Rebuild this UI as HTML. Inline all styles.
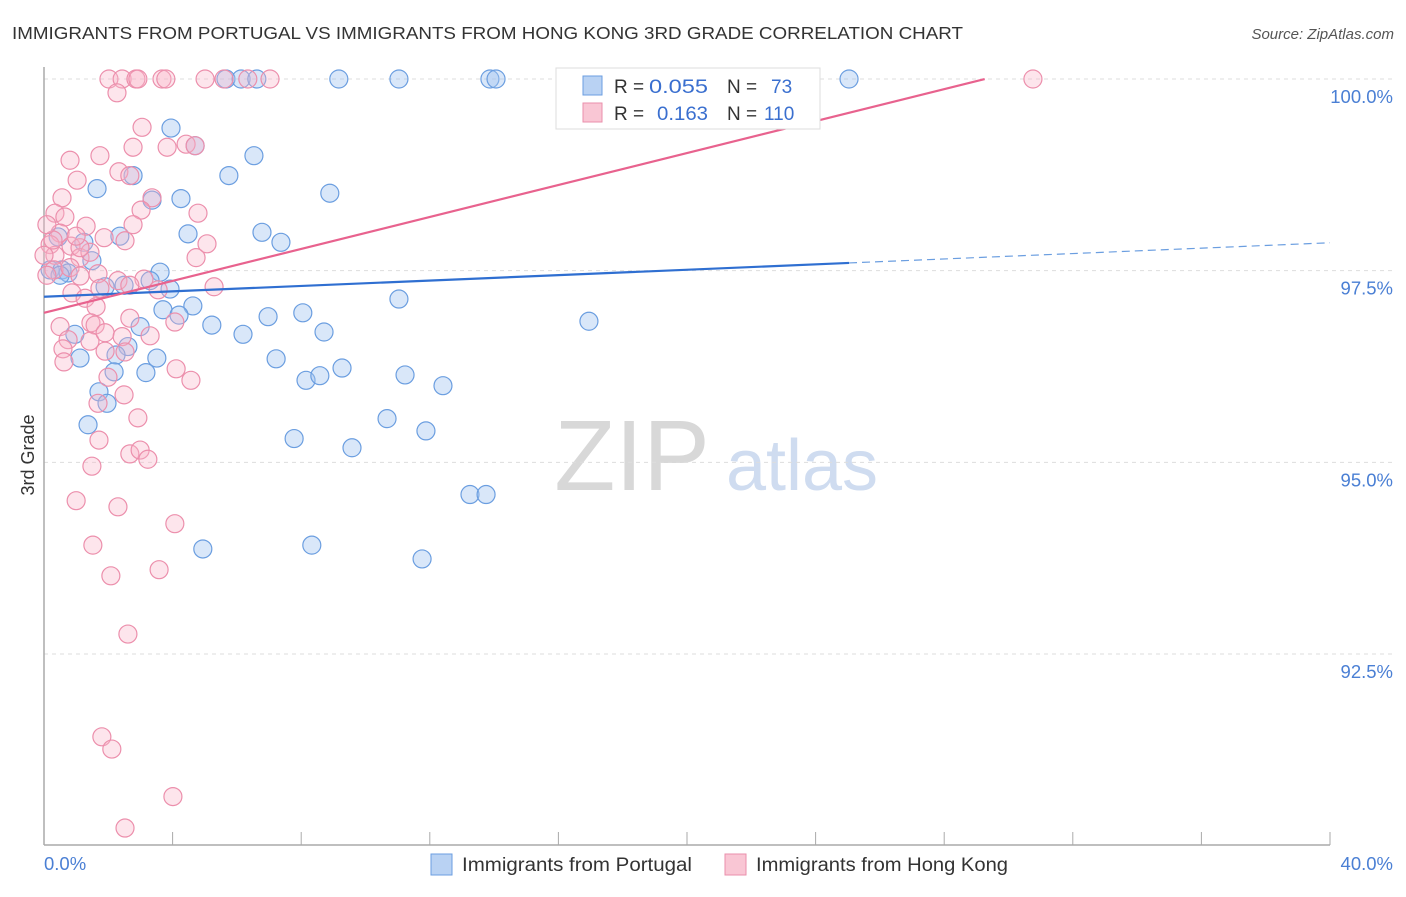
<!DOCTYPE html>
<html><head><meta charset="utf-8"><style>
body{margin:0;background:#fff;font-family:"Liberation Sans",sans-serif}
svg text{font-family:"Liberation Sans",sans-serif}
</style></head><body>
<svg id="chart" width="1406" height="892" xmlns="http://www.w3.org/2000/svg">
<text x="12" y="39" font-size="17.5" fill="#333" textLength="951" lengthAdjust="spacingAndGlyphs">IMMIGRANTS FROM PORTUGAL VS IMMIGRANTS FROM HONG KONG 3RD GRADE CORRELATION CHART</text>
<text x="1394" y="39" font-size="15" fill="#555" text-anchor="end" font-style="italic">Source: ZipAtlas.com</text>
<g>
<text x="632" y="490" font-size="100" fill="#d8d8d8" text-anchor="middle" font-family="Liberation Serif">ZIP</text>
<text x="802" y="490" font-size="72" fill="#cfdcf0" text-anchor="middle">atlas</text>
</g>
<g id="grid"></g><g id="axes"></g><g id="pts"></g><g id="lines"></g>
<text transform="translate(34,455) rotate(-90)" font-size="18" fill="#333" text-anchor="middle">3rd Grade</text>
<g>
<rect x="556" y="68" width="264" height="61" fill="#fff" stroke="#ddd"/>
<rect x="583" y="76" width="19" height="19" fill="#b9d2f3" stroke="#6b9ee0"/>
<rect x="583" y="103" width="19" height="19" fill="#f9c6d4" stroke="#ea8fab"/>
<text x="614" y="93" font-size="19" fill="#333">R =</text>
<text x="649" y="93" font-size="19" fill="#3a6fcf" textLength="59" lengthAdjust="spacingAndGlyphs">0.055</text>
<text x="727" y="93" font-size="19" fill="#333">N =</text>
<text x="771" y="93" font-size="19" fill="#3a6fcf">73</text>
<text x="614" y="120" font-size="19" fill="#333">R =</text>
<text x="657" y="120" font-size="19" fill="#3a6fcf" textLength="51" lengthAdjust="spacingAndGlyphs">0.163</text>
<text x="727" y="120" font-size="19" fill="#333">N =</text>
<text x="764" y="120" font-size="19" fill="#3a6fcf">110</text>
</g>
<g>
<rect x="431" y="854" width="21" height="21" fill="#b9d2f3" stroke="#6b9ee0"/>
<text x="462" y="871" font-size="19" fill="#333" textLength="230" lengthAdjust="spacingAndGlyphs">Immigrants from Portugal</text>
<rect x="725" y="854" width="21" height="21" fill="#f9c6d4" stroke="#ea8fab"/>
<text x="756" y="871" font-size="19" fill="#333" textLength="252" lengthAdjust="spacingAndGlyphs">Immigrants from Hong Kong</text>
</g>
</svg>
<script>
const yTicks=[92.5,95,97.5,100];
const yTickLabels=["92.5%","95.0%","97.5%","100.0%"];
const xTicks=[0,4,8,12,16,20,24,28,32,36,40];
const xEndLabels=["0.0%","40.0%"];
const blueX=[5.66,6.13,6.62,9.17,11.04,13.87,14.06,25.04,16.67,3.95,4.70,6.53,5.75,2.77,1.65,4.26,3.36,8.89,6.78,4.48,2.36,7.37,0.44,1.24,1.49,3.61,0.19,0.56,0.75,0.50,1.90,2.49,3.92,3.30,4.63,3.70,4.20,5.22,6.19,6.97,8.05,8.71,2.99,11.04,16.95,0.96,2.61,2.24,1.12,3.51,7.22,9.27,8.15,8.58,11.23,12.41,2.18,3.17,1.71,1.96,1.37,10.67,11.88,7.78,9.58,13.25,13.75,4.94,8.33,11.76];
const blueY=[100,100,100,100,100,100,100,100,100,99.36,99.13,99.00,98.74,98.74,98.57,98.44,98.42,98.51,98.00,97.98,97.95,97.87,97.94,97.87,97.63,97.48,97.51,97.51,97.47,97.44,97.29,97.31,97.26,97.37,97.04,96.99,96.92,96.79,96.67,96.90,96.95,96.70,96.77,97.13,96.84,96.67,96.51,96.40,96.36,96.36,96.35,96.23,96.07,96.13,96.14,96.00,96.18,96.17,95.92,95.77,95.49,95.57,95.41,95.31,95.19,94.58,94.58,93.87,93.92,93.74];
const pinkX=[2.02,2.43,2.86,2.92,3.67,3.79,5.01,5.60,6.34,7.03,30.76,2.27,3.05,2.77,1.74,0.81,1.03,4.42,3.83,4.70,2.33,2.67,4.79,3.36,3.02,0.56,0.34,0.65,0.50,1.31,1.87,2.52,2.77,5.07,0.19,0.34,0.84,1.12,1.43,4.73,0.31,0.81,1.12,1.68,2.30,3.11,3.55,5.29,0.87,1.28,1.62,1.46,1.59,0.50,0.75,1.43,1.90,2.43,2.67,3.30,4.07,0.59,1.90,2.52,0.62,1.99,4.11,4.57,1.68,2.49,2.92,1.71,2.67,2.99,3.23,1.49,1.00,2.30,4.07,1.52,3.58,2.08,2.61,1.80,2.11,4.01,2.52,0,0.09,0.28,0.09,1.12,1.00,2.67,1.74];
const pinkY=[100,100,100,100,100,100,100,100,100,100,100,99.82,99.37,99.11,99.00,98.94,98.68,99.15,99.11,99.13,98.79,98.74,98.25,98.45,98.29,98.45,98.25,98.20,97.99,98.08,97.93,97.89,98.10,97.85,97.84,97.70,97.82,97.67,97.74,97.67,97.51,97.54,97.43,97.46,97.37,97.39,97.25,97.29,97.21,97.14,97.03,96.82,96.79,96.77,96.60,96.58,96.69,96.64,96.88,96.65,96.83,96.48,96.45,96.44,96.31,96.11,96.22,96.07,95.77,95.88,95.58,95.29,95.11,95.16,95.04,94.95,94.50,94.42,94.20,93.92,93.60,93.52,92.76,91.42,91.26,90.64,90.23,97.70,97.44,97.90,98.10,97.80,97.95,97.31,97.27];
const blueTrend=[97.16,0.0176];   // intercept, slope
const pinkTrend=[96.95,0.1042];
const blueSolidEnd=25.04, pinkEnd=29.26;

const X0=44,X1=1330,Y100=79,Y925=654;
const sx=v=>X0+(v/40)*(X1-X0);
const sy=v=>Y100+(100-v)/7.5*(Y925-Y100);
const NS='http://www.w3.org/2000/svg';
function mk(tag,attrs,parent){const e=document.createElementNS(NS,tag);for(const k in attrs)e.setAttribute(k,attrs[k]);parent.appendChild(e);return e;}
const grid=document.getElementById('grid'),axes=document.getElementById('axes'),pts=document.getElementById('pts'),lines=document.getElementById('lines');
yTicks.forEach((t,i)=>{
 const l=mk('line',{x1:X0,x2:1394,y1:sy(t),y2:sy(t),stroke:'#ddd','stroke-dasharray':'4,4'},grid);
 
 
 const tx=mk('text',{x:1393,y:sy(t)+24,'font-size':'18.5','fill':'#4a7fd4','text-anchor':'end'},axes);
 tx.textContent=yTickLabels[i];
 
 
});
const ya=mk('line',{x1:X0,x2:X0,y1:67,y2:845,stroke:'#aaa','stroke-width':1.5},axes);


const xa=mk('line',{x1:X0,x2:X1,y1:845,y2:845,stroke:'#aaa','stroke-width':1.5},axes);


xTicks.forEach(t=>{const l=mk('line',{x1:sx(t),x2:sx(t),y1:832,y2:845,stroke:'#aaa'},axes);
 
 });
const xl0=mk('text',{x:44,y:870,'font-size':'18.5',fill:'#4a7fd4'},axes);xl0.textContent=xEndLabels[0];


const xl1=mk('text',{x:1393,y:870,'font-size':'18.5',fill:'#4a7fd4','text-anchor':'end'},axes);xl1.textContent=xEndLabels[1];


blueX.forEach((v,i)=>{const c=mk('circle',{cx:sx(v),cy:sy(blueY[i]),r:9,fill:'rgba(160,195,240,0.4)',stroke:'#6b9ee0','stroke-width':1.2},pts);
 
 });
pinkX.forEach((v,i)=>{const c=mk('circle',{cx:sx(v),cy:sy(pinkY[i]),r:9,fill:'rgba(248,180,200,0.35)',stroke:'#ec8fac','stroke-width':1.2},pts);
 
 });
const bl=v=>blueTrend[0]+blueTrend[1]*v, pl=v=>pinkTrend[0]+pinkTrend[1]*v;
const b1=mk('line',{x1:sx(0),y1:sy(bl(0)),x2:sx(blueSolidEnd),y2:sy(bl(blueSolidEnd)),stroke:'#2f6fd1','stroke-width':2.2},lines);


const b2=mk('line',{x1:sx(blueSolidEnd),y1:sy(bl(blueSolidEnd)),x2:sx(40),y2:sy(bl(40)),stroke:'#6b9ee0','stroke-width':1.2,'stroke-dasharray':'8,5'},lines);


const p1=mk('line',{x1:sx(0),y1:sy(pl(0)),x2:sx(pinkEnd),y2:sy(pl(pinkEnd)),stroke:'#e8628e','stroke-width':2.2},lines);


</script>
</body></html>
